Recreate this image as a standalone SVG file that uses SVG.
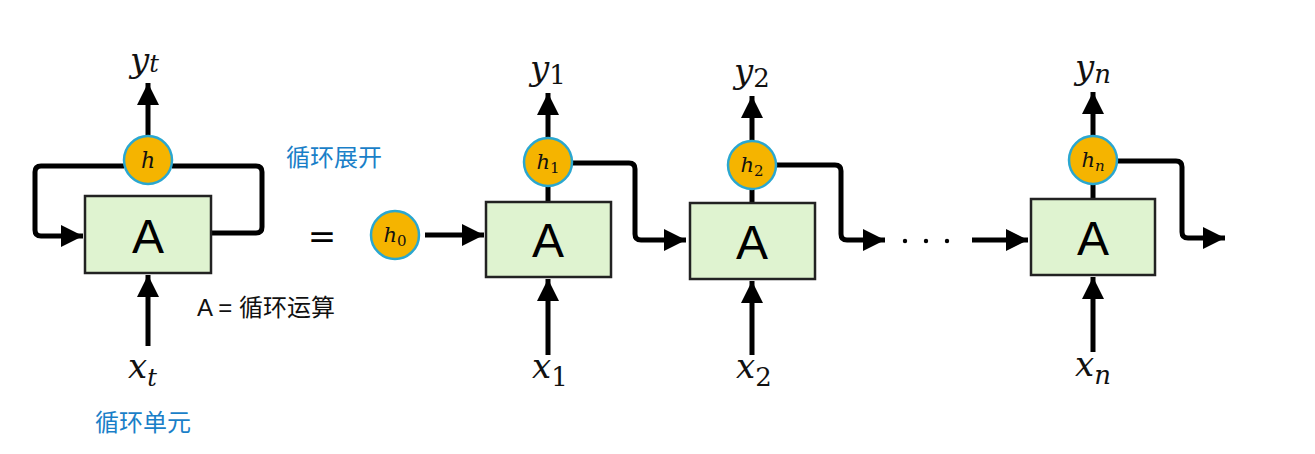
<svg xmlns="http://www.w3.org/2000/svg" width="1315" height="454" viewBox="0 0 1315 454">
<style>
.box{fill:#dff3d0;stroke:#222;stroke-width:2.5}
.c{fill:#f5b400;stroke:#2aa7d0;stroke-width:2.5}
.ln{fill:none;stroke:#000;stroke-width:5;stroke-linejoin:round}
.ar{marker-end:url(#ah)}
.m{font-family:"DejaVu Serif","Liberation Serif",serif;font-style:italic;fill:#111}
.A{font-family:"Liberation Sans",sans-serif;font-size:48px;fill:#000;text-anchor:middle}
.cn{font-family:"Liberation Sans","Noto Sans CJK SC",sans-serif;font-size:24px}
</style>
<defs><marker id="ah" viewBox="0 0 10 10" refX="10" refY="5" markerWidth="4.4" markerHeight="4.4" orient="auto" markerUnits="strokeWidth"><path d="M0,0L10,5L0,10z" fill="#000"/></marker></defs>
<rect width="1315" height="454" fill="#fff"/>
<g id="connectors">
<path class="ln" d="M124,166H41Q35,166 35,172V230Q35,236 41,236H83" marker-end="url(#ah)"/>
<path class="ln" d="M172,166H256Q262,166 262,172V227Q262,233 256,233H211"/>
<path class="ln ar" d="M148,136V83"/>
<path class="ln ar" d="M148,346V275"/>
<path class="ln ar" d="M425,235H484"/>
<path class="ln" d="M548,186V202"/>
<path class="ln ar" d="M548,138V93"/>
<path class="ln ar" d="M548,355V279"/>
<path class="ln ar" d="M572,163H629Q635,163 635,169V234Q635,240 641,240H686"/>
<path class="ln" d="M752,189V203"/>
<path class="ln ar" d="M752,141V96"/>
<path class="ln ar" d="M752,355V281"/>
<path class="ln ar" d="M776,165H835Q841,165 841,171V234Q841,240 847,240H885"/>
<path class="ln ar" d="M972,240H1028"/>
<path class="ln" d="M1093,184V199"/>
<path class="ln ar" d="M1093,136V92"/>
<path class="ln ar" d="M1093,352V277"/>
<path class="ln ar" d="M1117,161H1176Q1182,161 1182,167V232Q1182,238 1188,238H1225"/>
</g>
<g id="cell"><rect class="box" x="85" y="196" width="126" height="77"/><text class="A" x="148" y="253">A</text></g>
<g id="h"><circle class="c" cx="148" cy="160" r="24"/><text class="m" x="148" y="168" font-size="22" text-anchor="middle">h</text></g>
<g id="yt"><text class="m" x="130" y="72" font-size="34">y<tspan font-size="24">t</tspan></text></g>
<g id="xt"><text class="m" x="128" y="378" font-size="34">x<tspan font-size="24" dy="8">t</tspan></text></g>
<text class="cn" x="95" y="431" fill="#1a7fc8">循环单元</text>
<text class="cn" x="286" y="166" fill="#1a7fc8">循环展开</text>
<text class="cn" x="197" y="316" fill="#111" font-size="22">A  =  循环运算</text>
<text x="322" y="248" font-family="DejaVu Serif,serif" font-size="34" text-anchor="middle">=</text>
<g id="h0"><circle class="c" cx="395" cy="235" r="24"/><text class="m" x="395" y="242" font-size="21" text-anchor="middle">h<tspan font-style="normal" font-size="15" dy="4">0</tspan></text></g>
<g id="A1"><rect class="box" x="486" y="202" width="125" height="75"/><text class="A" x="548" y="257">A</text></g>
<g id="h1"><circle class="c" cx="548" cy="162" r="24"/><text class="m" x="548" y="169" font-size="21" text-anchor="middle">h<tspan font-style="normal" font-size="15" dy="4">1</tspan></text></g>
<g id="A2"><rect class="box" x="690" y="203" width="125" height="76"/><text class="A" x="752" y="259">A</text></g>
<g id="h2"><circle class="c" cx="752" cy="165" r="24"/><text class="m" x="752" y="172" font-size="21" text-anchor="middle">h<tspan font-style="normal" font-size="15" dy="4">2</tspan></text></g>
<g id="A3"><rect class="box" x="1031" y="199" width="124" height="76"/><text class="A" x="1093" y="255">A</text></g>
<g id="hn"><circle class="c" cx="1093" cy="160" r="24"/><text class="m" x="1093" y="167" font-size="21" text-anchor="middle">h<tspan font-size="15" dy="4">n</tspan></text></g>
<g id="dots" fill="#000"><circle cx="905" cy="241" r="2.2"/><circle cx="926" cy="241" r="2.2"/><circle cx="947" cy="241" r="2.2"/></g>
<g class="m" font-size="34">
<text x="530" y="80">y<tspan font-style="normal" font-size="26" dy="4">1</tspan></text>
<text x="734" y="83">y<tspan font-style="normal" font-size="26" dy="4">2</tspan></text>
<text x="1075" y="79">y<tspan font-size="26" dy="4">n</tspan></text>
<text x="532" y="378">x<tspan font-style="normal" font-size="26" dy="8">1</tspan></text>
<text x="736" y="378">x<tspan font-style="normal" font-size="26" dy="8">2</tspan></text>
<text x="1075" y="376">x<tspan font-size="26" dy="8">n</tspan></text>
</g>
</svg>
